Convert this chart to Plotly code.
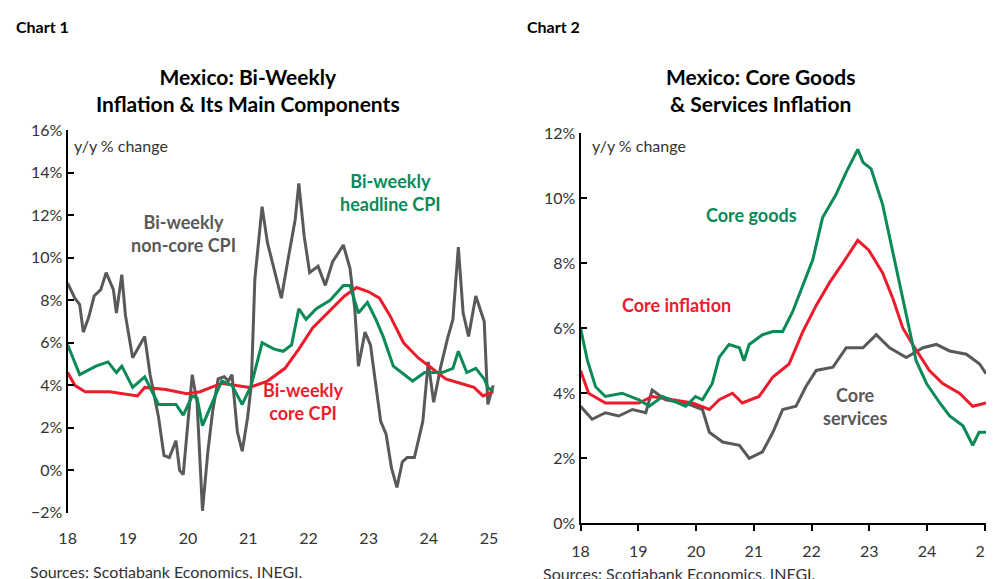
import plotly.graph_objects as go

# chart 1: bi-weekly y/y % change, x in decimal years (18 = 2018)
noncore_t = [18.0, 18.12, 18.2, 18.26, 18.35, 18.44, 18.55, 18.64, 18.76, 18.81, 18.9, 18.96, 19.02, 19.08, 19.2, 19.28,
             19.37, 19.51, 19.6, 19.69, 19.8, 19.86, 19.92, 19.98, 20.07, 20.15, 20.24, 20.33, 20.41, 20.5, 20.6, 20.67,
             20.73, 20.82, 20.9, 20.99, 21.05, 21.11, 21.23, 21.32, 21.43, 21.55, 21.66, 21.78, 21.84, 21.93, 22.02, 22.16,
             22.28, 22.4, 22.58, 22.69, 22.77, 22.83, 22.94, 23.03, 23.12, 23.2, 23.29, 23.38, 23.47, 23.56, 23.64, 23.76,
             23.9, 23.99, 24.08, 24.2, 24.31, 24.4, 24.49, 24.57, 24.66, 24.78, 24.92, 24.98, 25.07]
noncore_v = [8.8, 8.1, 7.8, 6.5, 7.2, 8.2, 8.5, 9.3, 8.5, 7.4, 9.2, 7.3, 6.3, 5.3, 5.9, 6.3,
             4.5, 2.5, 0.7, 0.6, 1.4, 0.0, -0.2, 1.7, 4.5, 3.2, -1.9, 0.9, 2.8, 4.3, 4.4, 4.2,
             4.5, 1.8, 0.9, 2.5, 4.0, 9.0, 12.4, 10.7, 9.5, 8.1, 9.9, 11.8, 13.5, 11.0, 9.3, 9.6,
             8.7, 9.8, 10.6, 9.5, 7.6, 4.9, 6.5, 5.9, 4.0, 2.3, 1.7, 0.1, -0.8, 0.4, 0.6, 0.6,
             2.3, 5.1, 3.2, 4.9, 6.2, 7.1, 10.5, 7.4, 6.3, 8.2, 7.0, 3.1, 4.0]

headline_t = [18.0, 18.2, 18.47, 18.67, 18.81, 18.9, 19.08, 19.28, 19.51, 19.8, 19.92, 20.07, 20.15, 20.24, 20.39, 20.56,
              20.73, 20.9, 21.05, 21.23, 21.43, 21.58, 21.72, 21.84, 21.96, 22.13, 22.36, 22.58, 22.69, 22.83, 22.98, 23.12,
              23.24, 23.41, 23.73, 23.93, 24.22, 24.4, 24.49, 24.63, 24.78, 24.92, 24.98, 25.07]
headline_v = [5.9, 4.5, 4.9, 5.1, 4.6, 4.9, 3.9, 4.4, 3.1, 3.1, 2.6, 3.5, 3.4, 2.1, 3.1, 4.2,
              4.0, 3.1, 4.0, 6.0, 5.7, 5.6, 5.9, 7.6, 7.1, 7.6, 8.0, 8.7, 8.7, 7.4, 7.9, 7.1,
              6.3, 4.9, 4.2, 4.6, 4.6, 4.8, 5.6, 4.6, 4.8, 4.3, 3.9, 3.7]

core_t = [18.0, 18.12, 18.29, 18.7, 19.16, 19.28, 19.63, 19.98, 20.2, 20.56, 21.02, 21.32, 21.61, 21.84, 22.07, 22.36,
          22.6, 22.8, 23.0, 23.18, 23.35, 23.58, 23.82, 24.05, 24.28, 24.52, 24.75, 24.9, 25.07]
core_v = [4.6, 4.0, 3.7, 3.7, 3.5, 3.9, 3.8, 3.6, 3.7, 4.1, 3.9, 4.2, 4.8, 5.7, 6.7, 7.5,
          8.2, 8.6, 8.4, 8.1, 7.3, 6.0, 5.3, 4.8, 4.3, 4.1, 3.9, 3.5, 3.7]

# chart 2: core goods / core inflation / core services
goods_t = [18.0, 18.12, 18.26, 18.43, 18.72, 19.01, 19.19, 19.42, 19.82, 19.99, 20.11, 20.28, 20.4, 20.57, 20.75, 20.83,
           20.92, 21.15, 21.33, 21.5, 21.67, 21.85, 22.02, 22.19, 22.42, 22.6, 22.8, 22.89, 23.03, 23.23, 23.41, 23.58,
           23.81, 23.99, 24.22, 24.39, 24.62, 24.79, 24.9, 25.02]
goods_v = [6.0, 5.0, 4.2, 3.9, 4.0, 3.8, 3.6, 3.9, 3.6, 3.9, 3.8, 4.3, 5.1, 5.5, 5.4, 5.0,
           5.5, 5.8, 5.9, 5.9, 6.5, 7.3, 8.1, 9.4, 10.1, 10.8, 11.5, 11.1, 10.9, 9.8, 8.3, 6.9,
           5.0, 4.3, 3.7, 3.3, 3.0, 2.4, 2.8, 2.8]

coreinf_t = [18.0, 18.14, 18.43, 18.66, 19.01, 19.24, 19.59, 19.94, 20.23, 20.4, 20.63, 20.8, 21.09, 21.33, 21.61, 21.85,
             22.08, 22.31, 22.54, 22.8, 22.99, 23.23, 23.41, 23.58, 23.75, 24.04, 24.27, 24.56, 24.79, 25.02]
coreinf_v = [4.7, 4.0, 3.7, 3.7, 3.7, 3.9, 3.8, 3.7, 3.5, 3.8, 4.0, 3.7, 3.9, 4.5, 4.9, 5.9,
             6.7, 7.4, 8.0, 8.7, 8.4, 7.7, 6.9, 6.0, 5.5, 4.7, 4.3, 4.0, 3.6, 3.7]

serv_t = [18.0, 18.2, 18.43, 18.66, 18.9, 19.13, 19.24, 19.47, 19.82, 20.11, 20.23, 20.46, 20.75, 20.92, 21.15, 21.33,
          21.5, 21.73, 21.9, 22.08, 22.37, 22.6, 22.89, 23.12, 23.35, 23.64, 23.93, 24.16, 24.39, 24.68, 24.91, 25.02]
serv_v = [3.6, 3.2, 3.4, 3.3, 3.5, 3.4, 4.1, 3.8, 3.7, 3.5, 2.8, 2.5, 2.4, 2.0, 2.2, 2.8,
          3.5, 3.6, 4.2, 4.7, 4.8, 5.4, 5.4, 5.8, 5.4, 5.1, 5.4, 5.5, 5.3, 5.2, 4.9, 4.6]

year_ticks = [18, 19, 20, 21, 22, 23, 24, 25]
GRAY, GREEN, RED = "#595959", "#0a8a57", "#ec1c2d"
FONT = "Lato"

fig = go.Figure()
def add(t, v, c, xa, ya):
    fig.add_trace(go.Scatter(x=t, y=v, mode="lines", line=dict(color=c, width=3),
                             xaxis=xa, yaxis=ya, showlegend=False, hoverinfo="skip"))

add(noncore_t, noncore_v, GRAY, "x", "y")
add(core_t, core_v, RED, "x", "y")
add(headline_t, headline_v, GREEN, "x", "y")
add(serv_t, serv_v, GRAY, "x2", "y2")
add(coreinf_t, coreinf_v, RED, "x2", "y2")
add(goods_t, goods_v, GREEN, "x2", "y2")

tick_font = dict(family=FONT, size=16, color="#333")
axis_common = dict(showgrid=False, zeroline=False, automargin=False, tickcolor="black", tickwidth=2)
fig.update_layout(
    width=994, height=579, margin=dict(l=0, r=0, t=0, b=0),
    plot_bgcolor="white", paper_bgcolor="white",
    xaxis=dict(domain=[0.060, 0.490], range=[18, 25.1], tickvals=year_ticks,
               ticktext=[str(y) for y in year_ticks], showline=False, ticks="",
               ticklabelstandoff=14, tickfont=tick_font, anchor="y", **axis_common),
    # axis line drawn at the 0% level of chart 1
    xaxis3=dict(domain=[0.060, 0.490], range=[18, 25.1], tickvals=year_ticks, showticklabels=False,
                showline=True, linecolor="black", linewidth=2, ticks="outside", ticklen=6,
                anchor="free", position=1 - 462 / 579, overlaying="x", **axis_common),
    yaxis=dict(domain=[0.128, 0.789], range=[-2, 16], dtick=2, ticksuffix="%",
               showline=True, linecolor="black", linewidth=2, ticks="inside", ticklen=6,
               tickfont=tick_font, anchor="x", **axis_common),
    xaxis2=dict(domain=[0.576, 0.988], range=[18, 25.09], tickvals=year_ticks,
                ticktext=[str(y) for y in year_ticks], showline=True, linecolor="black", linewidth=2,
                ticks="outside", ticklen=6, ticklabelstandoff=6, tickfont=tick_font, anchor="y2",
                **axis_common),
    yaxis2=dict(domain=[0.110, 0.784], range=[0, 12], dtick=2, ticksuffix="%",
                showline=True, linecolor="black", linewidth=2, ticks="inside", ticklen=6,
                tickfont=tick_font, anchor="x2", **axis_common),
)

def note(x, y, text, size=15, color="#333", bold=False, xanchor="center"):
    if bold:
        text = "<b>" + text + "</b>"
    fig.add_annotation(x=x / 994, y=1 - y / 579, xref="paper", yref="paper", text=text,
                       showarrow=False, xanchor=xanchor, yanchor="middle",
                       font=dict(family=FONT, size=size, color=color))

note(6, 18, "Chart 1", size=16, color="black", bold=True, xanchor="left")
note(517, 18, "Chart 2", size=16, color="black", bold=True, xanchor="left")
note(240, 82, "Mexico: Bi-Weekly<br>Inflation & Its Main Components", size=21, color="black", bold=True)
note(752, 82, "Mexico: Core Goods<br>& Services Inflation", size=21, color="black", bold=True)
note(64, 137, "y/y % change", size=16, xanchor="left")
note(582, 137, "y/y % change", size=16, xanchor="left")
note(175, 225, "Bi-weekly<br>non-core CPI", size=18, color=GRAY, bold=True)
note(382, 185, "Bi-weekly<br>headline CPI", size=18, color=GREEN, bold=True)
note(295, 393, "Bi-weekly<br>core CPI", size=18, color=RED, bold=True)
note(743, 207, "Core goods", size=18, color=GREEN, bold=True)
note(668, 297, "Core inflation", size=18, color=RED, bold=True)
note(847, 398, "Core<br>services", size=18, color=GRAY, bold=True)
note(20, 563, "Sources: Scotiabank Economics, INEGI.", size=16, xanchor="left")
note(533, 565, "Sources: Scotiabank Economics, INEGI.", size=16, xanchor="left")

fig.write_html("out.html")
